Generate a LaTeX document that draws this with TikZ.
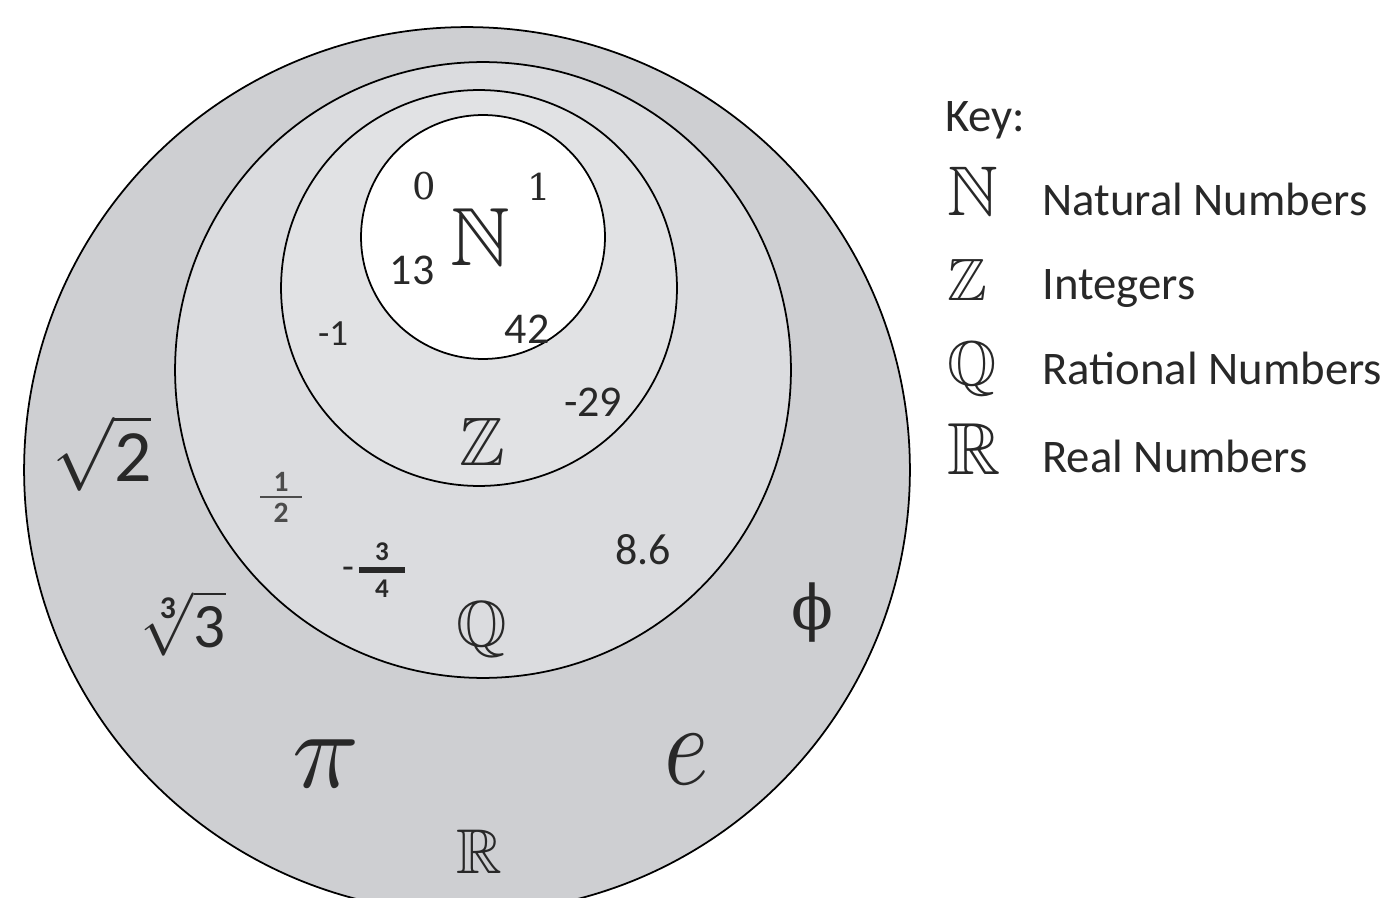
\documentclass[tikz,border=0pt]{standalone}
\usepackage{amssymb}
\usepackage{fontspec}
\setmainfont{Carlito}
\newfontfamily\dvserif{DejaVu Serif}
\usepackage{tikz}
\definecolor{realgray}{RGB}{206,207,210}
\definecolor{ratgray}{RGB}{219,220,223}
\definecolor{intgray}{RGB}{225,226,228}
\definecolor{inkgray}{RGB}{40,40,40}
\newcommand{\bbsym}[2]{\scalebox{#1}{$\mathbb{#2}$}}

\begin{document}
\begin{tikzpicture}[x=0.02cm, y=-0.02cm,
  setline/.style={draw=black, line width=1pt},
  num/.style={font=\fontsize{25}{30}\selectfont, text=inkgray, inner sep=0pt},
  serifnum/.style={font=\dvserif\fontsize{21}{25}\selectfont, text=inkgray, inner sep=0pt},
  bigsym/.style={text=inkgray, inner sep=0pt},
  keytext/.style={font=\fontsize{26.6}{32}\selectfont, text=inkgray, anchor=base west, inner sep=0pt},
  keysym/.style={text=inkgray, anchor=base west, inner sep=0pt}
]
\useasboundingbox (0,0) rectangle (1392,898);
\clip (0,0) rectangle (1392,898);

% nested sets
\coordinate (cR) at (467,470);
\coordinate (cQ) at (483,370);
\coordinate (cZ) at (479,288);
\coordinate (cN) at (483,237);
\draw[setline, fill=realgray] (cR) circle[radius=8.86cm];
\draw[setline, fill=ratgray]  (cQ) circle[radius=6.16cm];
\draw[setline, fill=intgray]  (cZ) circle[radius=3.96cm];
\draw[setline, fill=white]    (cN) circle[radius=2.44cm];

% naturals
\node[serifnum] (n0)  at (424,186) {0};
\node[serifnum] (n1)  at (539,187) {1};
\node[bigsym]   (symN) at (480,237) {\bbsym{4.7}{N}};
\node[num]      (n13) at (412,270) {13};
\node[num]      (n42) at (527,329) {42};

% integers
\node[num, font=\fontsize{21}{25}\selectfont] (nm1) at (333,334) {-1};
\node[num]      (nm29) at (593,402) {-29};
\node[bigsym]   (symZ) at (482,442) {\bbsym{3.9}{Z}};

% rationals
\node[bigsym, text=black!70] (half) at (281,497)
  {\scalebox{2.4}{$\mkern7mu\mathbf{1}\mkern7mu\over\mathbf{2}$}};
\node[bigsym] (mtq) at (376,570)
  {\scalebox{2.2}{$\mbox{-}{\mkern9mu\mathbf{3}\mkern9mu\above1.6pt\mathbf{4}}$}};
\node[num]      (n86) at (643,550) {8.6};
\node[bigsym]   (symQ) at (482,630) {\bbsym{3.7}{Q}};

% reals
\node[bigsym] (sqrt2) at (102,453) {\scalebox{4.2}{$\sqrt{\mbox{2}}$}};
\node[bigsym] (cbrt3) at (184,623) {\scalebox{3.6}{$\sqrt[\mathbf{3}]{\mbox{3}}$}};
\node[bigsym] (piconst) at (326,764) {\scalebox{6.3}{$\pi$}};
\node[bigsym] (euler) at (687,760) {\scalebox{5.4}[6.6]{$e$}};
\node[bigsym, font=\dvserif\fontsize{35}{40}\selectfont] (phi) at (812,613) {ϕ};
\node[bigsym]   (symR) at (479,852) {\bbsym{3.6}{R}};

% key
\node[keytext] (key) at (945,132) {Key:};
\node[keysym]  (keyN) at (947,216) {\bbsym{4.0}{N}};
\node[keytext] (txtN) at (1042,216) {Natural Numbers};
\node[keysym]  (keyZ) at (947,301) {\bbsym{3.4}{Z}};
\node[keytext] (txtZ) at (1042,300) {Integers};
\node[keysym]  (keyQ) at (947,385) {\bbsym{3.6}{Q}};
\node[keytext] (txtQ) at (1042,384) {Rational Numbers};
\node[keysym]  (keyR) at (947,474) {\bbsym{4.2}{R}};
\node[keytext] (txtR) at (1042,472) {Real Numbers};
\end{tikzpicture}
\end{document}
